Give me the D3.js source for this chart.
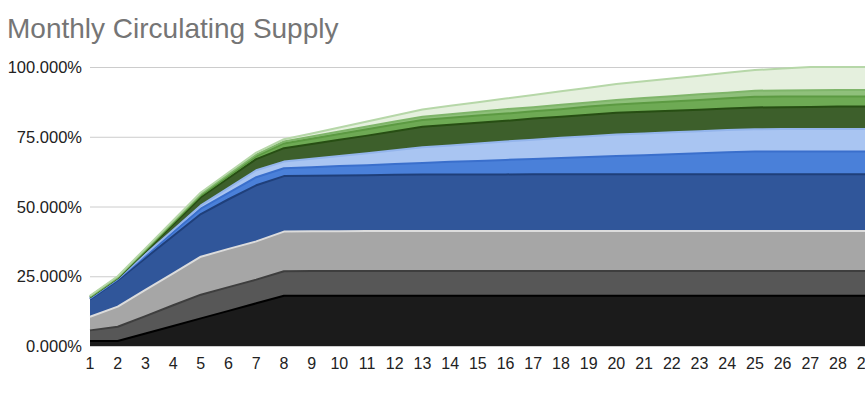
<!DOCTYPE html>
<html><head><meta charset="utf-8">
<script src="https://cdn.jsdelivr.net/npm/d3@7/dist/d3.min.js"></script>
<style>html,body{margin:0;padding:0;background:#fff;overflow:hidden}svg{display:block}</style>
</head><body>
<svg id="chart" width="865" height="399"></svg>
<script>
const months = d3.range(1, 31);
const seriesNames = ["S1","S2","S3","S4","S5","S6","S7","S8","S9","S10"];
const s1 = [1.8,1.8,4.5,7.2,9.9,12.6,15.3,18.0,18.0,18.0,18.0,18.0,18.0,18.0,18.0,18.0,18.0,18.0,18.0,18.0,18.0,18.0,18.0,18.0,18.0,18.0,18.0,18.0,18.0,18.0];
const s2 = [3.8,5.1,6.2,7.4,8.5,8.5,8.5,8.8,8.9,8.9,8.9,8.9,8.9,8.9,8.9,8.9,8.9,8.9,8.9,8.9,8.9,8.9,8.9,8.9,8.9,8.9,8.9,8.9,8.9,8.9];
const s3 = [4.9,7.2,9.4,11.4,13.6,13.7,13.7,14.2,14.2,14.2,14.3,14.3,14.3,14.3,14.3,14.3,14.3,14.3,14.3,14.3,14.3,14.3,14.3,14.3,14.3,14.3,14.3,14.3,14.3,14.3];
const s4 = [6.2,9.5,11.4,13.4,15.3,17.8,20.1,19.9,19.9,20.0,20.0,20.2,20.3,20.3,20.3,20.3,20.4,20.4,20.4,20.4,20.4,20.4,20.4,20.4,20.4,20.4,20.4,20.4,20.4,20.4];
const s5 = [0.3,0.3,0.8,1.4,1.9,2.3,2.9,2.8,3.1,3.4,3.6,3.8,4.1,4.5,4.8,5.2,5.4,5.8,6.1,6.5,6.8,7.1,7.5,7.8,8.1,8.1,8.1,8.1,8.1,8.1];
const s6 = [0.2,0.2,0.6,0.8,1.2,1.8,2.5,2.4,3.0,3.6,4.3,5.0,5.6,5.9,6.3,6.6,6.9,7.2,7.5,7.7,7.8,7.9,7.9,8.0,8.0,8.1,8.1,8.1,8.1,8.1];
const s7 = [0.2,0.2,1.0,2.0,2.9,3.5,4.0,4.8,5.3,5.8,6.3,6.8,7.4,7.4,7.4,7.4,7.6,7.6,7.7,7.8,7.8,7.7,7.7,7.7,7.8,7.8,7.9,8.0,8.0,8.0];
const s8 = [0.2,0.2,0.4,0.6,0.7,0.8,1.0,1.7,1.9,2.1,2.3,2.4,2.4,2.5,2.6,2.6,2.6,2.7,2.9,3.0,3.1,3.3,3.5,3.7,3.8,3.8,3.7,3.6,3.6,3.6];
const s9 = [0.2,0.2,0.3,0.4,0.5,0.6,0.6,0.7,0.8,0.9,1.0,1.1,1.2,1.3,1.4,1.6,1.5,1.6,1.5,1.6,1.8,1.9,2.0,2.0,2.2,2.2,2.3,2.4,2.4,2.4];
const s10 = [0.2,0.3,0.4,0.4,0.5,0.6,0.7,0.8,1.1,1.4,1.8,2.1,2.6,3.0,3.4,3.8,4.4,4.8,5.3,5.7,6.0,6.4,6.7,7.1,7.4,7.9,8.3,8.2,8.2,8.2];
const yTicks = [0, 25, 50, 75, 100];
const title = "Monthly Circulating Supply";

const fills = ["#1b1b1b","#575757","#a6a6a6","#30569a","#4a80d9","#a9c5f2","#3d5f2b","#6eaa54","#8fc07b","#e5f0de"];
const strokes = ["#000000","#3e3e3e","#dcdcdc","#1f3f7a","#3a6fcc","#94b5ec","#274e13","#5c9a42","#7fb56a","#b6d7a8"];

const allSeries = [s1,s2,s3,s4,s5,s6,s7,s8,s9,s10];
const table = months.map((m, i) => {
  const row = {month: m};
  seriesNames.forEach((n, j) => row[n] = allSeries[j][i]);
  return row;
});

const svg = d3.select("#chart");
const x = d3.scaleLinear().domain([1, 28]).range([90, 838]);
const y = d3.scaleLinear().domain([0, 100]).range([346, 67]);

svg.append("text").attr("x", 7).attr("y", 38)
  .attr("font-family", "Liberation Sans, Arial, sans-serif").attr("font-size", 28)
  .attr("fill", "#757575").text(title);

// gridlines
svg.append("g").selectAll("line").data(yTicks).join("line")
  .attr("x1", 90).attr("x2", 865)
  .attr("y1", d => y(d) + 0.5).attr("y2", d => y(d) + 0.5)
  .attr("stroke", "#cccccc").attr("stroke-width", 1);

const stack = d3.stack().keys(seriesNames);
const layers = stack(table);

const area = d3.area().x(d => x(d.data.month)).y0(d => y(d[0])).y1(d => y(d[1]));
const line = d3.line().x(d => x(d.data.month)).y(d => y(d[1]));

svg.append("g").selectAll("path").data(layers).join("path")
  .attr("d", area).attr("fill", (d, i) => fills[i]);
svg.append("g").selectAll("path").data(layers).join("path")
  .attr("d", line).attr("fill", "none").attr("stroke", (d, i) => strokes[i]).attr("stroke-width", 2)
  .attr("stroke-linejoin", "round");

// y axis labels
svg.append("g").selectAll("text").data(yTicks).join("text")
  .attr("x", 82).attr("y", d => y(d) + 6).attr("text-anchor", "end")
  .attr("font-family", "Liberation Sans, Arial, sans-serif").attr("font-size", 16.5)
  .attr("fill", "#222").text(d => d3.format(".3f")(d) + "%");

// x axis labels
svg.append("g").selectAll("text").data(months).join("text")
  .attr("x", d => x(d)).attr("y", 369).attr("text-anchor", "middle")
  .attr("font-family", "Liberation Sans, Arial, sans-serif").attr("font-size", 16)
  .attr("fill", "#222").text(d => d);
</script>
</body></html>
